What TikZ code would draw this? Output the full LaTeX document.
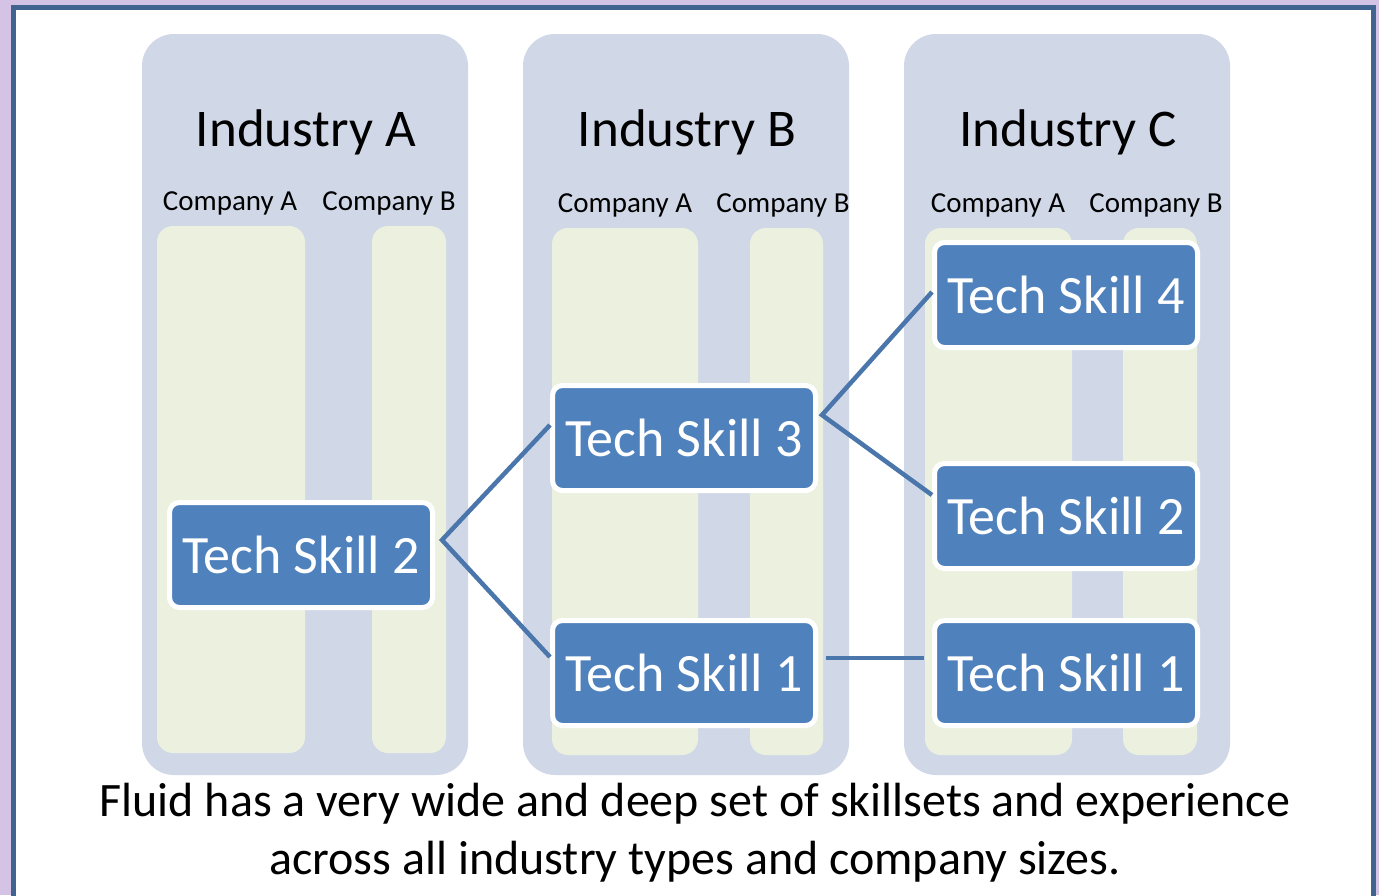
\documentclass[tikz,border=0pt]{standalone}
\usepackage{fontspec}
\setmainfont{Carlito}
\usetikzlibrary{positioning}

\definecolor{framelilac}{HTML}{D5C3E6}
\definecolor{framedark}{HTML}{40648F}
\definecolor{panelgrey}{HTML}{D0D8E8}
\definecolor{colgreen}{HTML}{EBF1DE}
\definecolor{skillblue}{HTML}{4F81BD}
\definecolor{linkblue}{HTML}{4A76AC}

\tikzset{
    skill/.style={draw=white, line width=5pt, fill=skillblue, text=white,
        rounded corners=10pt, minimum width=263pt, minimum height=105pt,
        inner sep=0pt, font=\fontsize{54}{60}\selectfont},
    link/.style={draw=linkblue, line width=4.5pt},
    company/.style={anchor=base, font=\fontsize{29}{32}\selectfont},
}

\begin{document}
\begin{tikzpicture}[x=1pt,y=-1pt]
    \useasboundingbox (0,0) rectangle (1379,895);
    \fill[framelilac] (0,0) rectangle (1379,895);
    \draw[framedark, line width=5pt, fill=white] (13.5,7) rectangle (1373.5,910);
    % industries with their company columns
    \foreach \px/\ind/\la/\lb/\cy/\aL/\aR/\bL/\bR in {142/A/230/389/226/157/305/372/446,
        523/B/625/783/228/552/698/750/823, 904/C/998/1156/228/925/1072/1123/1197}{
        \fill[panelgrey, rounded corners=32pt] (\px,34) rectangle ++(326,741);
        \node[anchor=base, font=\fontsize{53}{60}\selectfont] at ({\px+164},146) {Industry \ind};
        \node[company] at (\la,{\cy-16}) {Company A};
        \node[company] at (\lb,{\cy-16}) {Company B};
        \fill[colgreen, rounded corners=16pt] (\aL,\cy) rectangle (\aR,{\cy+527});
        \fill[colgreen, rounded corners=16pt] (\bL,\cy) rectangle (\bR,{\cy+527});
    }
    \node[skill] (a2) at (301,555) {Tech Skill 2};
    \node[skill] (b3) at (684,438) {Tech Skill 3};
    \node[skill] (b1) at (684,673) {Tech Skill 1};
    \node[skill] (c4) at (1066,295) {Tech Skill 4};
    \node[skill] (c2) at (1066,516) {Tech Skill 2};
    \node[skill] (c1) at (1066,673) {Tech Skill 1};
    \draw[link] ([yshift=13pt]b3.west) -- ([xshift=7pt,yshift=15pt]a2.east) -- ([yshift=16pt]b1.west);
    \draw[link] ([yshift=3pt]c4.west) -- ([xshift=4pt,yshift=23pt]b3.east) -- ([yshift=21pt]c2.west);
    \draw[link] ([xshift=8pt,yshift=15pt]b1.east) -- ([xshift=-8pt,yshift=15pt]c1.west);
    \node[align=center, font=\fontsize{48}{58}\selectfont] (caption) at (695,833)
        {Fluid has a very wide and deep set of skillsets and experience\\across all industry types and company sizes.};
\end{tikzpicture}
\end{document}
